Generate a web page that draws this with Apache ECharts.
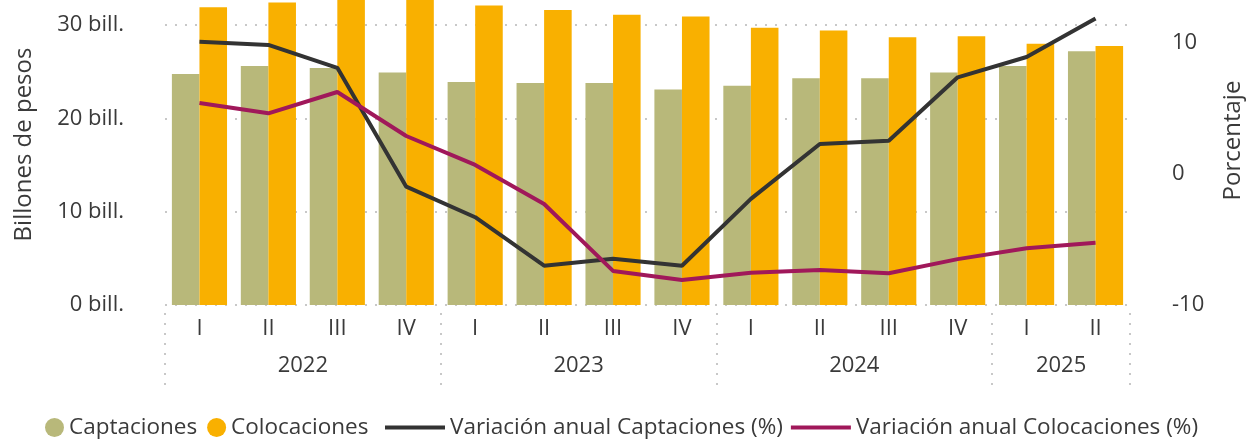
<!DOCTYPE html>
<html>
<head>
<meta charset="utf-8">
<script src="https://cdn.jsdelivr.net/npm/echarts@6/dist/echarts.min.js"></script>
<style>
  html, body { margin: 0; padding: 0; background: #fff; }
  #chart { width: 1246px; height: 443px; }
</style>
</head>
<body>
<div id="chart"></div>
<script>
// trimestres y año de cada periodo
var trimestres = ['I', 'II', 'III', 'IV', 'I', 'II', 'III', 'IV', 'I', 'II', 'III', 'IV', 'I', 'II'];
var anios = ['2022', '2022', '2022', '2022', '2023', '2023', '2023', '2023', '2024', '2024', '2024', '2024', '2025', '2025'];

// billones de pesos
var captaciones = [24.75, 25.6, 25.4, 24.9, 23.9, 23.8, 23.8, 23.1, 23.5, 24.3, 24.3, 24.9, 25.6, 27.2];
var colocaciones = [31.9, 32.4, 33.1, 33.0, 32.1, 31.6, 31.1, 30.9, 29.7, 29.4, 28.7, 28.8, 28.0, 27.75];

// variación anual (%)
var varCaptaciones = [10.1, 9.85, 8.1, -0.97, -3.3, -7.0, -6.47, -7.0, -1.9, 2.29, 2.54, 7.38, 8.93, 11.86];
var varColocaciones = [5.42, 4.63, 6.26, 2.9, 0.69, -2.29, -7.4, -8.09, -7.53, -7.33, -7.58, -6.5, -5.67, -5.24];

var fuente = '"Segoe UI", "Open Sans", sans-serif';
var gris = '#3a3a3a';
var punteado = { color: '#c8c8c8', width: 2, type: [2, 8] };

// limites de cada año sobre el eje (en unidades de trimestre)
var limites = [0], centros = [], etiquetasAnio = {};
for (var i = 1; i <= anios.length; i++) {
  if (i === anios.length || anios[i] !== anios[i - 1]) {
    var ini = limites[limites.length - 1];
    centros.push((ini + i) / 2);
    etiquetasAnio[(ini + i) / 2] = anios[i - 1];
    limites.push(i);
  }
}

var chart = echarts.init(document.getElementById('chart'));
chart.setOption({
  animation: false,
  textStyle: { fontFamily: fuente },
  grid: { left: 165, right: 116, top: 0, height: 305, outerBoundsMode: 'none', containLabel: false },
  legend: [
    {
      left: 40, top: 411, itemWidth: 19, itemHeight: 19, itemGap: 10,
      textStyle: { fontFamily: fuente, fontSize: 22.5, color: gris },
      data: [{ name: 'Captaciones', icon: 'circle' }, { name: 'Colocaciones', icon: 'circle' }]
    },
    {
      left: 380, top: 411, itemWidth: 60, itemHeight: 4, itemGap: 8,
      textStyle: { fontFamily: fuente, fontSize: 22.5, color: gris },
      data: [{ name: 'Variación anual Captaciones (%)', icon: 'rect' },
             { name: 'Variación anual Colocaciones (%)', icon: 'rect' }]
    }
  ],
  xAxis: [
    {
      type: 'category', data: trimestres,
      axisLine: { show: false, onZero: false }, axisTick: { show: false },
      axisLabel: { color: gris, fontSize: 22, margin: 13 }
    },
    {
      type: 'value', min: 0, max: anios.length, position: 'bottom', offset: 8,
      axisLine: { show: false, onZero: false }, splitLine: { show: false },
      axisTick: { show: true, customValues: limites, length: 77, lineStyle: punteado },
      axisLabel: {
        customValues: centros, color: gris, fontSize: 22, margin: 42,
        formatter: function (v) { return etiquetasAnio[v] || ''; }
      }
    }
  ],
  yAxis: [
    {
      type: 'value', min: 0, max: 32.68, interval: 10,
      name: 'Billones de pesos', nameLocation: 'middle', nameGap: 129, nameRotate: 90,
      nameTextStyle: { fontSize: 24, color: gris, padding: [0, 0, 0, 16] },
      axisLabel: { color: gris, fontSize: 22, margin: 41, showMaxLabel: false,
                   formatter: '{value} bill.' },
      axisLine: { show: false }, axisTick: { show: false },
      splitLine: { show: true, showMaxLine: false, lineStyle: punteado }
    },
    {
      type: 'value', min: -10, max: 13.28, interval: 10, position: 'right',
      name: 'Porcentaje', nameLocation: 'middle', nameGap: 91, nameRotate: 90,
      nameTextStyle: { fontSize: 24, color: gris, padding: [0, 0, 0, 24] },
      axisLabel: { color: gris, fontSize: 22, margin: 42, showMaxLabel: false },
      axisLine: { show: false }, axisTick: { show: false },
      splitLine: { show: false }
    }
  ],
  series: [
    { name: 'Captaciones', type: 'bar', data: captaciones, barGap: 0, barCategoryGap: '20%',
      itemStyle: { color: '#b8b87a' } },
    { name: 'Colocaciones', type: 'bar', data: colocaciones,
      itemStyle: { color: '#f9b000' } },
    { name: 'Variación anual Captaciones (%)', type: 'line', yAxisIndex: 1, data: varCaptaciones,
      showSymbol: false, symbol: 'none', lineStyle: { width: 4, color: '#333333' }, itemStyle: { color: '#333333' } },
    { name: 'Variación anual Colocaciones (%)', type: 'line', yAxisIndex: 1, data: varColocaciones,
      showSymbol: false, symbol: 'none', lineStyle: { width: 4, color: '#a0185a' }, itemStyle: { color: '#a0185a' } }
  ]
});
</script>
</body>
</html>
